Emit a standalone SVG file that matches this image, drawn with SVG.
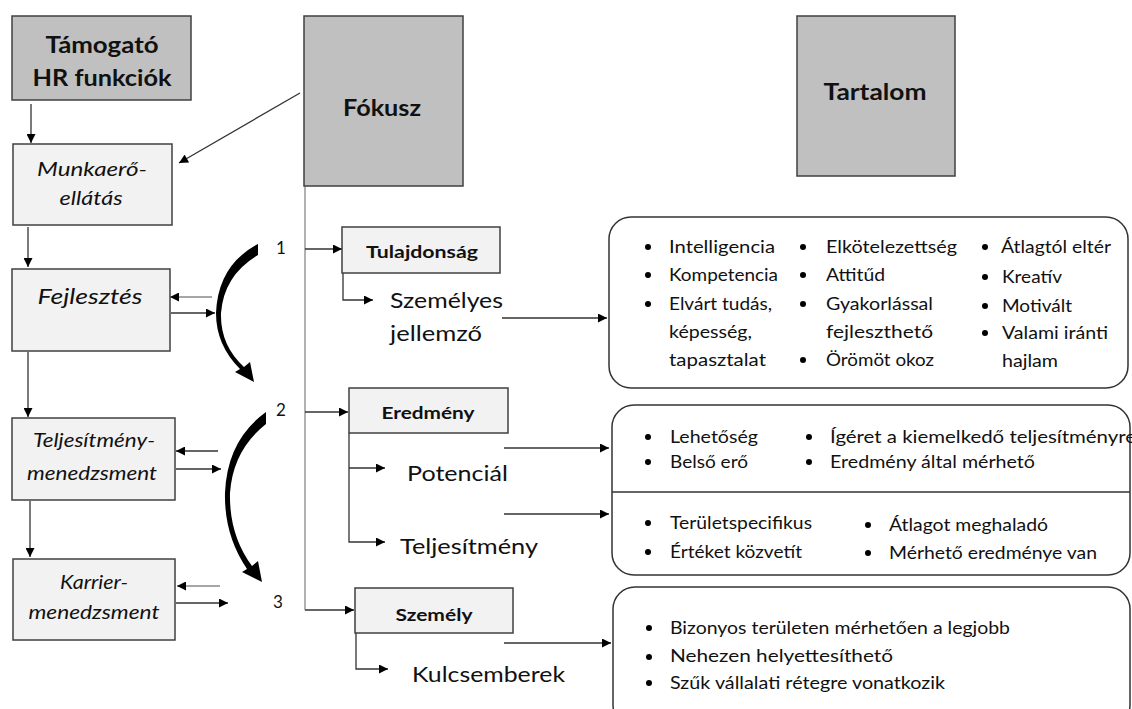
<svg xmlns="http://www.w3.org/2000/svg" width="1132" height="709" viewBox="0 0 1132 709">
<defs>
<marker id="ah" viewBox="0 0 10 10" refX="10" refY="5" markerWidth="10" markerHeight="9" markerUnits="userSpaceOnUse" orient="auto"><path d="M0,0 L10,5 L0,10 z" fill="#000"/></marker>
</defs>
<style>
.hdr{fill:#c0c0c0;stroke:#404040;stroke-width:1.5}
.lt{fill:#f2f2f2;stroke:#404040;stroke-width:1.5}
.rb{fill:#fff;stroke:#333;stroke-width:1.5}
.t{font-family:Lato,"Liberation Sans",sans-serif;fill:#111}
.hb{font-size:23px;font-weight:bold;text-anchor:middle}
.it{font-style:italic;text-anchor:middle}
.sb{font-size:17px;font-weight:bold;text-anchor:middle}
.big{font-size:22px}
.li{font-size:17px}
.num{font-size:17px;text-anchor:middle}
.c{fill:none;stroke:#333;stroke-width:1.3}
.g{fill:none;stroke:#888;stroke-width:1.3}
.cur{fill:#000}
</style>
<rect width="1132" height="709" fill="#fff"/>
<g id="connectors">
<path class="c" d="M31,104 V143" marker-end="url(#ah)"/>
<path class="c" d="M300,93 L179,163" marker-end="url(#ah)"/>
<path class="c" d="M28,227 V267" marker-end="url(#ah)"/>
<path class="c" d="M28,352 V417" marker-end="url(#ah)"/>
<path class="c" d="M30,501 V557" marker-end="url(#ah)"/>
<path class="g" d="M212,297 H170" marker-end="url(#ah)"/>
<path class="c" d="M171,313 H215" marker-end="url(#ah)"/>
<path class="c" d="M218,451 H176" marker-end="url(#ah)"/>
<path class="c" d="M176,469 H221" marker-end="url(#ah)"/>
<path class="g" d="M220,586 H177" marker-end="url(#ah)"/>
<path class="c" d="M176,603 H228" marker-end="url(#ah)"/>
<path class="g" d="M305,186 V610"/>
<path class="c" d="M305,249 H342" marker-end="url(#ah)"/>
<path class="c" d="M305,412 H348" marker-end="url(#ah)"/>
<path class="c" d="M305,610 H354" marker-end="url(#ah)"/>
<path class="c" d="M343,273 V300 H373" marker-end="url(#ah)"/>
<path class="c" d="M349,433 V542 H385" marker-end="url(#ah)"/>
<path class="c" d="M349,468 H385" marker-end="url(#ah)"/>
<path class="c" d="M356,633 V669 H388" marker-end="url(#ah)"/>
<path class="c" d="M502,318 H607" marker-end="url(#ah)"/>
<path class="c" d="M504,448 H609" marker-end="url(#ah)"/>
<path class="c" d="M504,514 H609" marker-end="url(#ah)"/>
<path class="c" d="M504,643 H611" marker-end="url(#ah)"/>
<path class="cur" d="M258,244 L258,255 Q224,275 221,313 Q220,345 244,367 L250,362 L254,382 L235,372 L240,369 Q216,345 216,313 Q218,265 258,244 Z"/>
<path class="cur" d="M266,412 L266,424 Q233,450 230,493 Q229,535 252,566 L258,561 L262,582 L242,572 L247,569 Q224,535 225,493 Q227,440 266,412 Z"/>
</g>
<g id="n-tamogato"><rect class="hdr" x="12" y="16" width="179" height="84"/><text class="t hb" x="102" y="53" textLength="113" lengthAdjust="spacingAndGlyphs">Támogató</text><text class="t hb" x="102" y="86" textLength="139" lengthAdjust="spacingAndGlyphs">HR funkciók</text></g>
<g id="n-fokusz"><rect class="hdr" x="304" y="16" width="159" height="170"/><text class="t hb" x="382" y="116" font-size="22" textLength="78" lengthAdjust="spacingAndGlyphs">Fókusz</text></g>
<g id="n-tartalom"><rect class="hdr" x="797" y="16" width="158" height="160"/><text class="t hb" x="875" y="100" font-size="22" textLength="103" lengthAdjust="spacingAndGlyphs">Tartalom</text></g>
<g id="n-munkaero"><rect class="lt" x="13" y="144" width="159" height="81"/><text class="t it" font-size="19" x="92" y="176" textLength="110" lengthAdjust="spacingAndGlyphs">Munkaerő-</text><text class="t it" font-size="19" x="91" y="205" textLength="63" lengthAdjust="spacingAndGlyphs">ellátás</text></g>
<g id="n-fejlesztes"><rect class="lt" x="12" y="269" width="158" height="82"/><text class="t it" font-size="21" x="90" y="304" textLength="105" lengthAdjust="spacingAndGlyphs">Fejlesztés</text></g>
<g id="n-teljesitmeny-men"><rect class="lt" x="12" y="418" width="163" height="82"/><text class="t it" font-size="19" x="94" y="447" textLength="122" lengthAdjust="spacingAndGlyphs">Teljesítmény-</text><text class="t it" font-size="19" x="92" y="480" textLength="130" lengthAdjust="spacingAndGlyphs">menedzsment</text></g>
<g id="n-karrier"><rect class="lt" x="13" y="559" width="162" height="81"/><text class="t it" font-size="19" x="94" y="589" textLength="68" lengthAdjust="spacingAndGlyphs">Karrier-</text><text class="t it" font-size="19" x="94" y="619" textLength="131" lengthAdjust="spacingAndGlyphs">menedzsment</text></g>
<g id="n-num"><text class="t num" x="281" y="254">1</text><text class="t num" x="281" y="416">2</text><text class="t num" x="278" y="608">3</text></g>
<g id="n-tulajdonsag"><rect class="lt" x="342" y="227" width="158" height="46"/><text class="t sb" x="422" y="258" textLength="112" lengthAdjust="spacingAndGlyphs">Tulajdonság</text></g>
<g id="n-eredmeny"><rect class="lt" x="349" y="388" width="159" height="45"/><text class="t sb" x="428" y="419" textLength="93" lengthAdjust="spacingAndGlyphs">Eredmény</text></g>
<g id="n-szemely"><rect class="lt" x="355" y="588" width="158" height="45"/><text class="t sb" x="434" y="621" textLength="77" lengthAdjust="spacingAndGlyphs">Személy</text></g>
<g id="n-szemelyes"><text class="t big" x="390" y="308" textLength="113" lengthAdjust="spacingAndGlyphs">Személyes</text><text class="t big" x="390" y="341" textLength="92" lengthAdjust="spacingAndGlyphs">jellemző</text></g>
<g id="n-potencial"><text class="t big" x="407" y="481" textLength="101" lengthAdjust="spacingAndGlyphs">Potenciál</text></g>
<g id="n-teljesitmeny"><text class="t big" x="400" y="554" textLength="138" lengthAdjust="spacingAndGlyphs">Teljesítmény</text></g>
<g id="n-kulcsemberek"><text class="t big" x="412" y="682" textLength="153" lengthAdjust="spacingAndGlyphs">Kulcsemberek</text></g>
<g id="n-box1"><rect class="rb" x="609" y="217" width="519" height="171" rx="22"/>
<g fill="#000"><circle cx="648" cy="247" r="3"/><circle cx="648" cy="275" r="3"/><circle cx="648" cy="304" r="3"/><circle cx="803" cy="247" r="3"/><circle cx="803" cy="275" r="3"/><circle cx="803" cy="304" r="3"/><circle cx="803" cy="360" r="3"/><circle cx="985" cy="247" r="3"/><circle cx="985" cy="277" r="3"/><circle cx="985" cy="306" r="3"/><circle cx="985" cy="333" r="3"/></g>
<g class="t li"><text x="669" y="253" textLength="106" lengthAdjust="spacingAndGlyphs">Intelligencia</text><text x="669" y="281" textLength="109" lengthAdjust="spacingAndGlyphs">Kompetencia</text><text x="669" y="310" textLength="103" lengthAdjust="spacingAndGlyphs">Elvárt tudás,</text><text x="669" y="338" textLength="83" lengthAdjust="spacingAndGlyphs">képesség,</text><text x="669" y="366" textLength="97" lengthAdjust="spacingAndGlyphs">tapasztalat</text>
<text x="826" y="253" textLength="131" lengthAdjust="spacingAndGlyphs">Elkötelezettség</text><text x="826" y="281" textLength="59" lengthAdjust="spacingAndGlyphs">Attitűd</text><text x="826" y="310" textLength="107" lengthAdjust="spacingAndGlyphs">Gyakorlással</text><text x="826" y="338" textLength="107" lengthAdjust="spacingAndGlyphs">fejleszthető</text><text x="826" y="366" textLength="108" lengthAdjust="spacingAndGlyphs">Örömöt okoz</text>
<text x="1001" y="253" textLength="110" lengthAdjust="spacingAndGlyphs">Átlagtól eltér</text><text x="1002" y="283" textLength="60" lengthAdjust="spacingAndGlyphs">Kreatív</text><text x="1002" y="312" textLength="70" lengthAdjust="spacingAndGlyphs">Motivált</text><text x="1002" y="339" textLength="106" lengthAdjust="spacingAndGlyphs">Valami iránti</text><text x="1002" y="367" font-size="18" textLength="56" lengthAdjust="spacingAndGlyphs">hajlam</text></g></g>
<g id="n-box2"><rect class="rb" x="612" y="405" width="518" height="170" rx="22"/><path d="M612,492 H1130" stroke="#333" stroke-width="1.3"/>
<g fill="#000"><circle cx="648" cy="437" r="3"/><circle cx="648" cy="462" r="3"/><circle cx="809" cy="437" r="3"/><circle cx="809" cy="462" r="3"/><circle cx="648" cy="523" r="3"/><circle cx="648" cy="552" r="3"/><circle cx="868" cy="525" r="3"/><circle cx="868" cy="553" r="3"/></g>
<g class="t li"><text x="670" y="443" textLength="88" lengthAdjust="spacingAndGlyphs">Lehetőség</text><text x="670" y="468" textLength="78" lengthAdjust="spacingAndGlyphs">Belső erő</text><text x="830" y="443" textLength="306" lengthAdjust="spacingAndGlyphs">Ígéret a kiemelkedő teljesítményre</text><text x="830" y="468" textLength="205" lengthAdjust="spacingAndGlyphs">Eredmény által mérhető</text>
<text x="670" y="529" textLength="142" lengthAdjust="spacingAndGlyphs">Területspecifikus</text><text x="670" y="558" textLength="132" lengthAdjust="spacingAndGlyphs">Értéket közvetít</text><text x="889" y="531" textLength="159" lengthAdjust="spacingAndGlyphs">Átlagot meghaladó</text><text x="889" y="559" textLength="208" lengthAdjust="spacingAndGlyphs">Mérhető eredménye van</text></g></g>
<g id="n-box3"><rect class="rb" x="613" y="587" width="517" height="140" rx="22"/>
<g fill="#000"><circle cx="649" cy="628" r="3"/><circle cx="649" cy="657" r="3"/><circle cx="649" cy="683" r="3"/></g>
<g class="t li"><text x="670" y="634" textLength="340" lengthAdjust="spacingAndGlyphs">Bizonyos területen mérhetően a legjobb</text><text x="670" y="662" textLength="223" lengthAdjust="spacingAndGlyphs">Nehezen helyettesíthető</text><text x="670" y="689" textLength="275" lengthAdjust="spacingAndGlyphs">Szűk vállalati rétegre vonatkozik</text></g></g>
</svg>
